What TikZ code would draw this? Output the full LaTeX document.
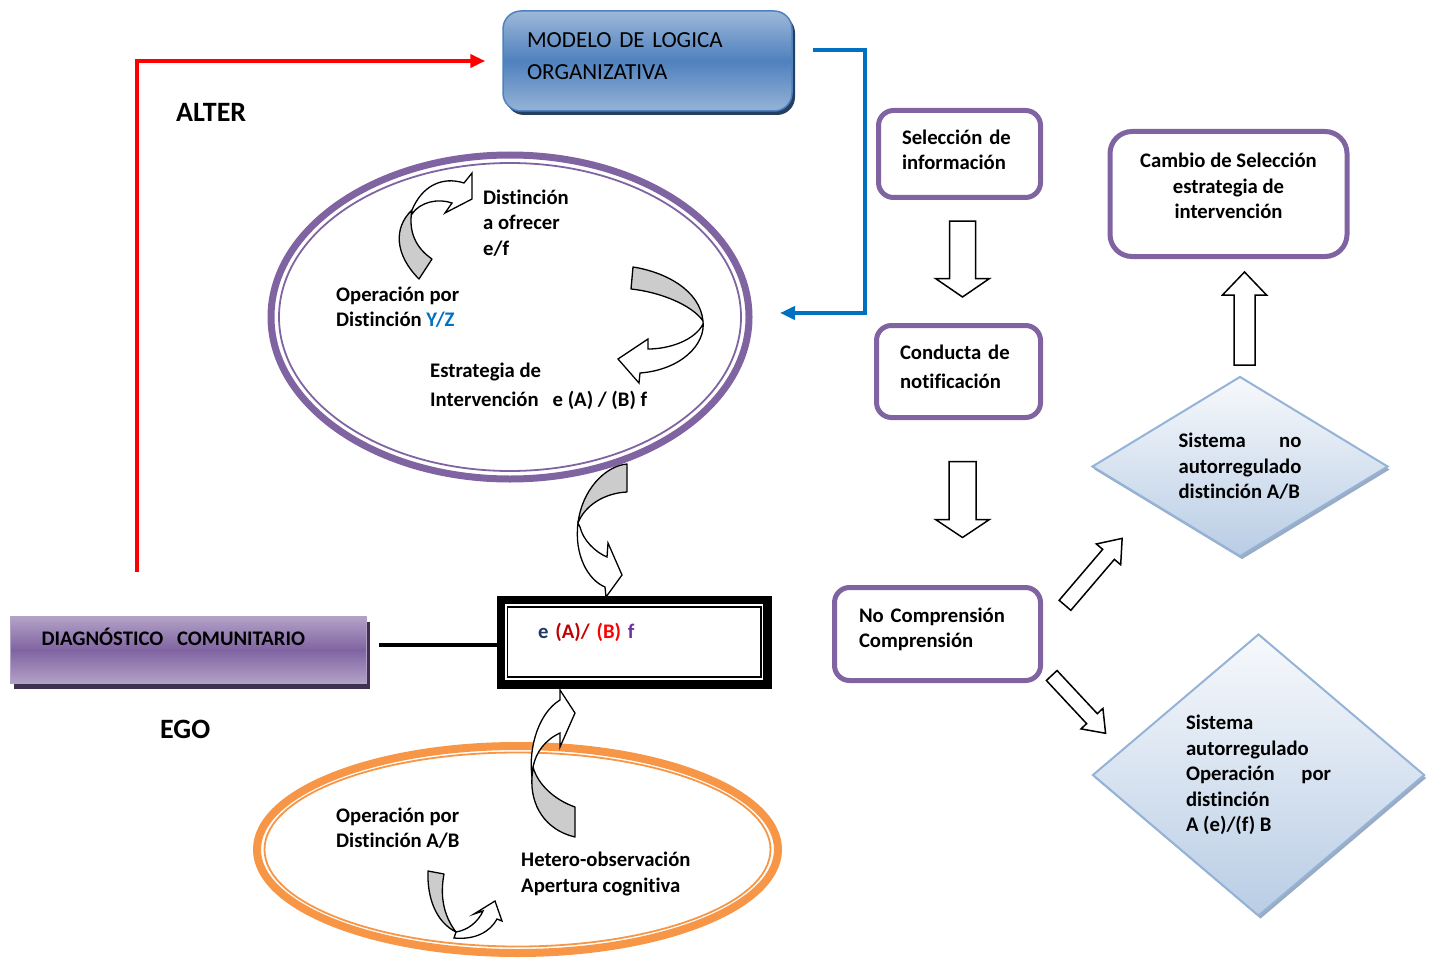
\documentclass[tikz,border=0pt]{standalone}
\usepackage{fontspec}
\setmainfont{Carlito}[Ligatures=CommonOff]
\usepackage{calc}
\usetikzlibrary{positioning,calc,shapes.geometric,shadows,arrows.meta}
\definecolor{purpline}{HTML}{8064A2}
\definecolor{blueline}{HTML}{0070C0}
\definecolor{orngline}{HTML}{F79646}
\definecolor{modtop}{HTML}{9DB8DA}
\definecolor{modmid}{HTML}{4F81BD}
\definecolor{modbot}{HTML}{95B3D7}
\definecolor{modshadow}{HTML}{243F60}
\definecolor{diagtop}{HTML}{B3A2C7}
\definecolor{diagshadow}{HTML}{3F3151}
\definecolor{diatop}{HTML}{F7F9FC}
\definecolor{diabot}{HTML}{B9CDE5}
\definecolor{diaedge}{HTML}{95B3D7}
\definecolor{diashadow}{HTML}{9AABC2}
\definecolor{curvegray}{HTML}{CCCCCC}
\definecolor{eblue}{HTML}{1F3864}
\definecolor{adark}{HTML}{C00000}
\definecolor{bred}{HTML}{FF0000}
\definecolor{fpurp}{HTML}{7030A0}
% text block raised inside its box
\newcommand\lifted[3]{\raisebox{#1}[\height][\depth]{\begin{tabular}{@{}#2@{}}#3\end{tabular}}}
\tikzset{
rbox/.style={draw=purpline, line width=5pt, rounded corners=15pt, fill=white,
  align=left, font=\fontsize{20.7}{25.5}\selectfont\bfseries},
txt/.style={align=left, anchor=west, inner sep=0pt,
  font=\fontsize{20.7}{25.5}\selectfont\bfseries},
bigtxt/.style={anchor=west, inner sep=0pt, font=\fontsize{28}{34}\selectfont\bfseries},
dia/.style={diamond, draw=diaedge, line width=2pt, top color=diatop, bottom color=diabot,
  drop shadow={shadow xshift=2pt, shadow yshift=-3pt, fill=diashadow, opacity=1},
  align=left, inner sep=2pt, font=\fontsize{20.7}{25.5}\selectfont\bfseries},
blockline/.style={draw=black, line width=1.5pt, fill=white, line join=miter},
curveback/.style={draw=black, line width=1.3pt, fill=curvegray, line join=round},
curvefront/.style={draw=black, line width=1.3pt, fill=white, line join=miter},
connect/.style={line width=4pt},
pics/barrow/.style args={#1/#2/#3/#4}{code={
  \path[blockline] (0,-#2) -- (#1-#3,-#2) -- (#1-#3,-#4) -- (#1,0)
    -- (#1-#3,#4) -- (#1-#3,#2) -- (0,#2) -- cycle;}}
}

\begin{document}
\begin{tikzpicture}[x=1pt,y=-1pt]
\useasboundingbox (0,0) rectangle (1434,960);

% ALTER / EGO
\node[draw=modmid, line width=1.5pt, rounded corners=18pt, top color=modtop, bottom color=modbot, middle color=modmid,
  drop shadow={shadow xshift=3pt, shadow yshift=-4pt, fill=modshadow, opacity=1},
  minimum width=289, minimum height=100, inner xsep=24pt, text width=241pt, align=left,
  font=\fontsize{23}{32}\selectfont] (modelo) at (647.5,61) {\noindent\lifted{4pt}{l}{MODELO DE LOGICA\\ORGANIZATIVA}};
\node[draw=diagtop, line width=1.5pt, top color=diagtop, bottom color=diagtop, middle color=purpline,
  drop shadow={shadow xshift=3pt, shadow yshift=-5pt, fill=diagshadow, opacity=1},
  minimum height=67, inner xsep=31pt, text width=294pt, text height=14pt, text depth=23pt, align=left,
  font=\fontsize{20.7}{25.5}\selectfont\bfseries] (diag) at (188.5,650) {DIAGN\'OSTICO\ \ COMUNITARIO};
\node[bigtxt] (alter) at (176,112) {ALTER};
\node[bigtxt] (ego) at (160,729) {EGO};

% ellipses
\node[ellipse, draw=purpline, line width=7pt, outer sep=0pt, minimum width=478, minimum height=324] (purp) at (510,317) {};
\draw[purpline, line width=1.8pt] (purp.center) ellipse [x radius=231, y radius=154];
\node[ellipse, draw=orngline, line width=8pt, outer sep=0pt, minimum width=521, minimum height=207] (orng) at (517.5,849.5) {};
\draw[orngline, line width=1.8pt] (orng.center) ellipse [x radius=253, y radius=97];

\node[txt] (dist) at (483,223) {Distinción\\a ofrecer\\e/f};
\node[txt] (opyz) at (336,307) {Operación por\\Distinción \textcolor{blueline}{Y/Z}};
\node[txt, font=\fontsize{20.7}{29}\selectfont\bfseries] (estr) at (430,386.5) {Estrategia de\\Intervención\ \ \ e (A) / (B) f};
\node[txt] (opab) at (336,828) {Operación por\\Distinción A/B};
\node[txt] (het) at (521,874) {Hetero-observación\\Apertura cognitiva};

% central box
\node[draw, line width=8.5pt, outer sep=0pt, minimum width=266.5, minimum height=84.7, inner xsep=37pt,
  text width=192.5pt, text height=15pt, text depth=22.7pt, align=left,
  font=\fontsize{20.7}{25.5}\selectfont\bfseries] (ctr) at (634.25,642.35)
  {\textcolor{eblue}{e} \textcolor{adark}{(A)/} \textcolor{bred}{(B)} \textcolor{fpurp}{f}};
\draw[line width=1.8pt] ([shift={(6.5,6.7)}]ctr.north west) rectangle ([shift={(-6.8,-7.4)}]ctr.south east);

% right column
\node[rbox, minimum width=162, minimum height=87, text width=115pt] (sel) at (959.5,154)
  {\noindent\lifted{2pt}{l}{Selección de\\información}};
\node[rbox, minimum width=164, minimum height=92, text width=117pt, font=\fontsize{20.7}{29}\selectfont\bfseries] (cond) at (958.5,371.5)
  {\noindent\lifted{3pt}{l}{Conducta de\\notificación}};
\node[rbox, minimum width=206, minimum height=93, text width=157pt] (noc) at (937.5,634)
  {\noindent\lifted{4pt}{l}{No Comprensión\\Comprensión}};
\node[rbox, minimum width=237, minimum height=125, rounded corners=22pt, align=center] (cambio) at (1228.5,194)
  {\lifted{6pt}{c}{Cambio de Selección\\estrategia de\\intervención}};
\node[dia, minimum width=296, minimum height=180, aspect=1.64] (sna) at (1240,466.5)
  {\makebox[\widthof{autorregulado}][s]{Sistema\hfill no}\\autorregulado\\distinción A/B};
\node[dia, minimum width=332, minimum height=282, aspect=1.18] (sa) at (1258.5,775)
  {Sistema\\autorregulado\\\makebox[145pt][s]{Operación\hfill por}\\distinción\\A (e)/(f) B};

% connectors
\draw[connect, bred, -{Triangle[length=15pt,width=13pt]}] ([xshift=-51.5,yshift=44]diag.north) |- ([xshift=-17]modelo.west);
\draw[connect, blueline, -{Triangle[length=15pt,width=13pt]}] ([xshift=20,yshift=11]modelo.east) -- ++(52.5,0) |- ([xshift=31,yshift=4]purp.east);
\draw[connect] ([xshift=12,yshift=5]diag.east) coordinate (lnA) -- (lnA -| ctr.west);

% block arrows
\pic[rotate=-90] at (962.5,221) {barrow=76/13/18.5/27};
\pic[rotate=-90] at (962.5,461.5) {barrow=76/13.5/18/27};
\pic[rotate=90] at (1244.5,365) {barrow=93/10.5/23/22};
\pic[rotate=49.5] at (1065,605.3) {barrow=88/7.7/21/16};
\pic[rotate=-47] at (1051.7,675.5) {barrow=79/7.3/20/15};

% curved arrows
\path[curveback] (419,279) .. controls (395,255) and (393,228) .. (412,210)
  .. controls (408,232) and (416,248) .. (432,259) -- cycle;
\path[curvefront] (412,210) .. controls (422,186) and (442,176) .. (464,183) -- (472,173) -- (472,199)
  -- (445,213) -- (452,203) .. controls (438,198) and (420,202) .. (412,214) -- cycle;
\path[curveback] (633,267) .. controls (665,272) and (700,290) .. (703,321)
  .. controls (692,305) and (660,292) .. (631,289) -- cycle;
\path[curvefront] (703,321) .. controls (706,345) and (680,370) .. (640,373) -- (639,383) -- (618,359)
  -- (648,339) -- (648,349) .. controls (670,349) and (695,340) .. (703,324) -- cycle;
\path[curveback] (627,464) .. controls (605,466) and (582,490) .. (578,523)
  .. controls (585,505) and (605,493) .. (627,492) -- cycle;
\path[curvefront] (578,523) .. controls (574,555) and (588,580) .. (605,587) -- (606,597) -- (622,575)
  -- (608,543) -- (607,557) .. controls (595,552) and (583,540) .. (580,527) -- cycle;
\path[curvefront] (560,700) -- (560,690) -- (575,713) -- (560,747) -- (560,733)
  .. controls (545,740) and (536,752) .. (533,767) -- (532,777)
  .. controls (528,745) and (540,712) .. (560,700) -- cycle;
\path[curveback] (532,777) .. controls (530,805) and (545,830) .. (575,837) -- (575,807)
  .. controls (555,800) and (538,785) .. (533,767) -- cycle;
\path[curveback] (428,871) -- (444,874) .. controls (440,895) and (443,915) .. (456,932)
  .. controls (436,922) and (427,898) .. (428,871) -- cycle;
\path[curvefront] (454,938) .. controls (475,940) and (490,932) .. (497,919) -- (502,921) -- (495,901)
  -- (474,914) -- (483,911) .. controls (478,922) and (468,930) .. (456,932) -- cycle;
\end{tikzpicture}
\end{document}
